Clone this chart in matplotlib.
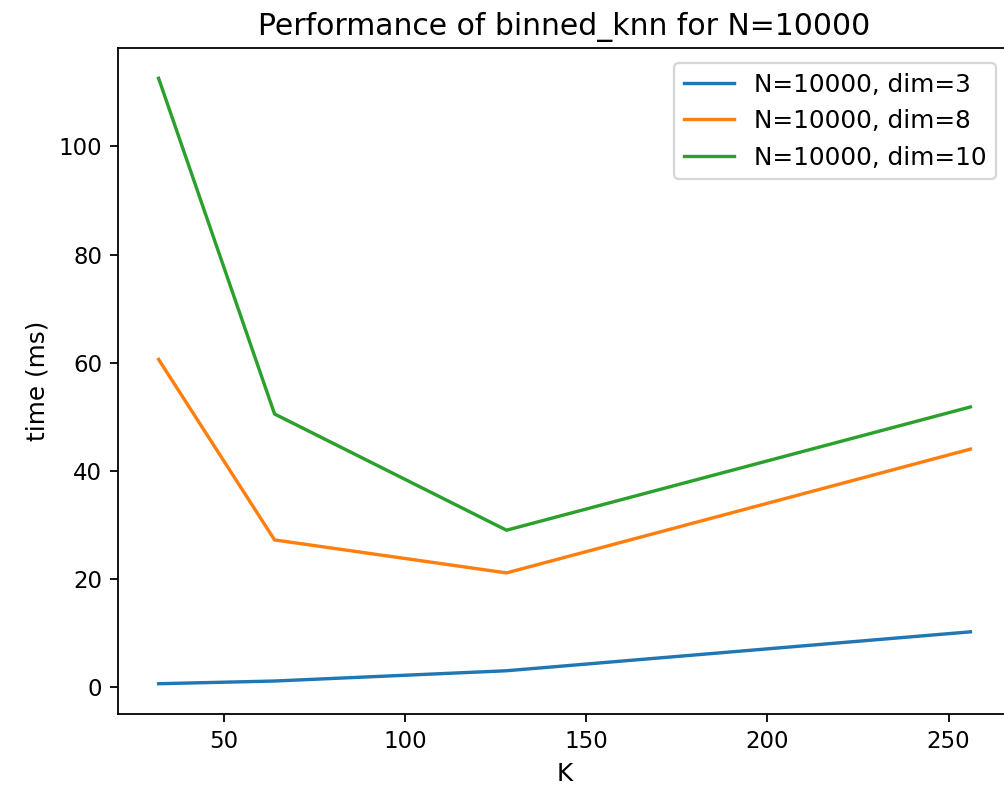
import matplotlib

matplotlib.use("Agg")
import matplotlib.pyplot as plt

k_values = [32, 64, 128, 256]
time_dim3 = [0.6, 1.1, 3.0, 10.2]
time_dim8 = [60.6, 27.2, 21.1, 44.0]
time_dim10 = [112.6, 50.5, 29.0, 51.8]

labels = ["N=10000, dim=3", "N=10000, dim=8", "N=10000, dim=10"]

dpi = 162
W, H = 1005, 791
fig = plt.figure(figsize=(W / dpi, H / dpi), dpi=dpi)
# rechte Achsenlinie liegt ausserhalb des Bildes (wie im Original)
ax = fig.add_axes([118 / W, (H - 714) / H, (1011 - 118) / W, (714 - 48) / H])

for series, label in zip((time_dim3, time_dim8, time_dim10), labels):
    ax.plot(k_values, series, label=label)

ax.set_title("Performance of binned_knn for N=10000", fontsize=13.3)
ax.set_xlabel("K", fontsize=11)
ax.set_ylabel("time (ms)", fontsize=11)
ax.tick_params(labelsize=10.2)
ax.legend(loc="upper right", fontsize=11, borderaxespad=0.6)

fig.savefig("out.png", dpi=dpi)
plt.close(fig)
